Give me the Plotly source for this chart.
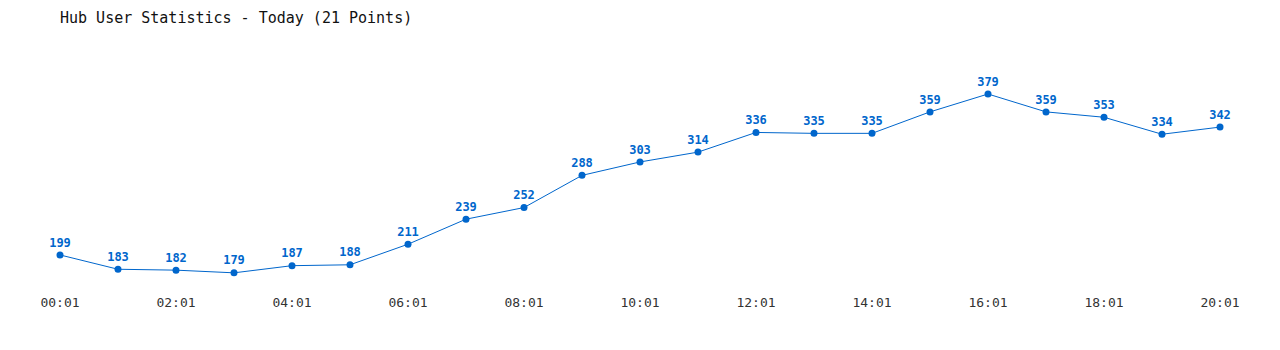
import plotly.graph_objects as go

hours = list(range(21))
tick_labels = [f"{h:02d}:01" for h in range(0, 21, 2)]
tick_vals = list(range(0, 21, 2))
users = [199, 183, 182, 179, 187, 188, 211, 239, 252, 288, 303, 314, 336, 335, 335, 359, 379, 359, 353, 334, 342]

color = "#0066cc"
font_mono = "DejaVu Sans Mono, Liberation Mono, monospace"

fig = go.Figure()
fig.add_trace(go.Scatter(
    x=hours, y=users, mode="lines+markers+text",
    line=dict(color=color, width=1),
    marker=dict(color=color, size=7),
    text=[str(v) for v in users], textposition="top center",
    textfont=dict(family=font_mono, size=12, color=color, weight="bold"),
    cliponaxis=False, hoverinfo="skip",
))
fig.update_layout(
    width=1280, height=350,
    margin=dict(l=60, r=60, t=40, b=60),
    plot_bgcolor="white", paper_bgcolor="white",
    showlegend=False,
    title=dict(text="Hub User Statistics - Today (21 Points)", x=0, xref="paper", xanchor="left",
               y=1, yref="container", yanchor="top", pad=dict(t=12, l=0),
               font=dict(family=font_mono, size=15, color="#111111")),
    xaxis=dict(range=[0, 20], tickvals=tick_vals, ticktext=tick_labels, showgrid=False,
               zeroline=False, showline=False, ticks="", ticklen=0, ticklabelstandoff=3,
               tickfont=dict(family=font_mono, size=13, color="#333333")),
    yaxis=dict(range=[159.8, 439.4], visible=False, showgrid=False, zeroline=False),
)
fig.write_html("out.html")
